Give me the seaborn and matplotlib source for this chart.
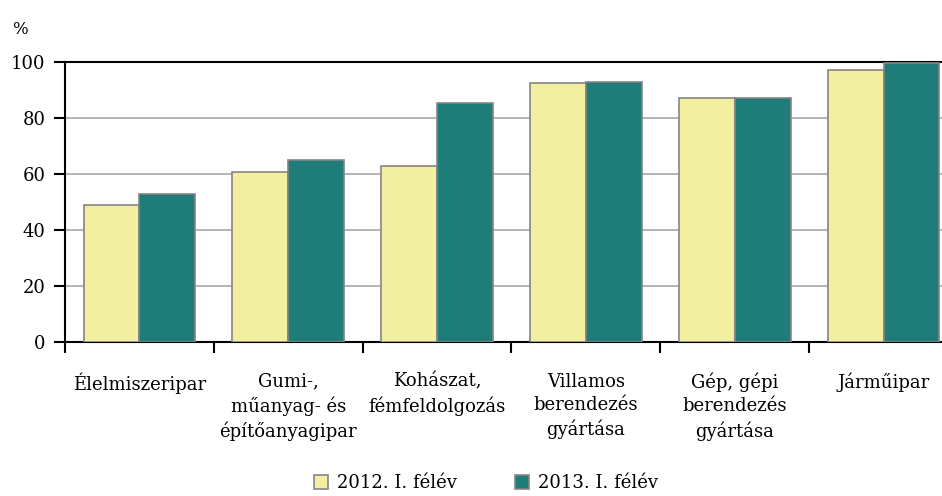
import pandas as pd
import seaborn as sns
import matplotlib.pyplot as plt
from matplotlib.patches import Patch

categories = ['Élelmiszeripar', 'Gumi-,\nműanyag- és\népítőanyagipar', 'Kohászat,\nfémfeldolgozás',
              'Villamos\nberendezés\ngyártása', 'Gép, gépi\nberendezés\ngyártása', 'Járműipar']
values_2012 = [48.8, 60.8, 62.9, 92.4, 87.2, 97.2]
values_2013 = [52.9, 65.1, 85.2, 92.9, 87.2, 99.5]
series = ['2012. I. félév', '2013. I. félév']
colors = ['#F3EFA0', '#1E7C79']

df = pd.DataFrame({
    'cat': categories * 2,
    'value': values_2012 + values_2013,
    'period': [series[0]] * len(categories) + [series[1]] * len(categories),
})

sns.set_style('white')
plt.rcParams['font.family'] = ['DejaVu Serif']
plt.rcParams['text.color'] = 'black'
plt.rcParams['xtick.color'] = 'black'
plt.rcParams['ytick.color'] = 'black'

fig = plt.figure(figsize=(9.42, 4.96), dpi=100)
ax = fig.add_axes([65 / 942, 154 / 496, 893 / 942, 280 / 496])

sns.barplot(data=df, x='cat', y='value', hue='period', palette=colors, saturation=1, width=0.75,
            edgecolor='#858585', linewidth=1.2, ax=ax, legend=False, zorder=3)

ax.set_xlim(-0.5, 5.5)
ax.set_ylim(0, 100)
ax.set_yticks(range(0, 101, 20))
ax.yaxis.grid(True, color='#a0a0a0', linewidth=1.1, zorder=0)
ax.set_axisbelow(True)
ax.set_xlabel('')
ax.set_ylabel('')

for side in ['left', 'bottom', 'top']:
    ax.spines[side].set_color('black')
    ax.spines[side].set_linewidth(1.5)
ax.spines['right'].set_visible(False)

# boundaries between categories as minor ticks
ax.set_xticks([i - 0.5 for i in range(len(categories) + 1)], minor=True)
ax.tick_params(axis='x', which='minor', direction='out', length=8, width=1.5, color='black', bottom=True)
ax.tick_params(axis='x', which='major', length=0, pad=22, labelsize=13, labelcolor='black')
ax.tick_params(axis='y', which='major', direction='out', length=8, width=1.5, color='black',
               left=True, labelsize=13, pad=6, labelcolor='black')
for lbl in ax.get_xticklabels():
    lbl.set_linespacing(1.38)

fig.text(12 / 942, 1 - 30 / 496, '%', fontsize=12, va='center', ha='left')

handles = [Patch(facecolor=c, edgecolor='#858585', linewidth=1.2) for c in colors]
fig.legend(handles, series, loc='center', bbox_to_anchor=(486 / 942, 13 / 496), ncol=2, frameon=False,
           fontsize=13, handlelength=0.8, handleheight=0.8, handletextpad=0.5, columnspacing=3.2)

plt.savefig('out.png', dpi=100)
